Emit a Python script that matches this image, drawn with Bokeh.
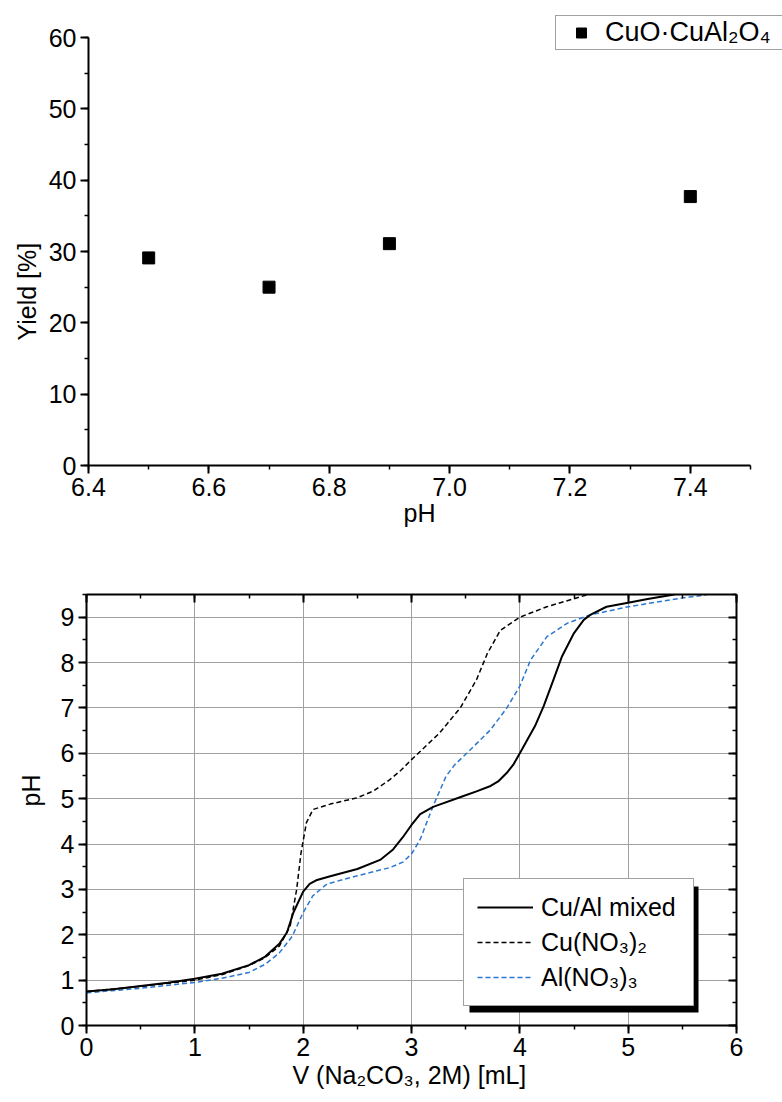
from bokeh.plotting import figure
from bokeh.models import (Legend, LegendItem, LinearAxis, SingleIntervalTicker, Title,
                          PrintfTickFormatter, CustomJSTickFormatter, BoxAnnotation)
from bokeh.embed import file_html
from bokeh.resources import INLINE

FONT = "Liberation Sans"
FS = "25px"

# ---------------- data ----------------
yield_ph = [6.5, 6.7, 6.9, 7.4]
yield_pct = [29.1, 25.0, 31.1, 37.7]
yield_label = "CuO·CuAl₂O₄"

mixed_v = [0, 0.25, 0.5, 0.75, 1.0, 1.25, 1.5, 1.65, 1.78, 1.85, 1.91, 2.0, 2.06, 2.12,
           2.25, 2.5, 2.71, 2.83, 2.92, 3.0, 3.08, 3.2, 3.48, 3.6, 3.73, 3.8, 3.88, 3.94,
           4.0, 4.14, 4.22, 4.31, 4.39, 4.5, 4.59, 4.65, 4.8, 5.0, 5.18, 5.4, 5.6]
mixed_ph = [0.75, 0.80, 0.87, 0.94, 1.03, 1.14, 1.33, 1.52, 1.80, 2.05, 2.49, 2.95, 3.12, 3.2,
            3.29, 3.45, 3.65, 3.88, 4.15, 4.42, 4.66, 4.82, 5.06, 5.16, 5.28, 5.38, 5.57, 5.75,
            6.0, 6.6, 7.04, 7.62, 8.14, 8.65, 8.94, 9.05, 9.23, 9.32, 9.4, 9.49, 9.6]

cu_v = [0, 0.5, 1.0, 1.25, 1.5, 1.65, 1.78, 1.88, 1.94, 1.98, 2.03, 2.09, 2.25, 2.5, 2.65,
        2.8, 2.9, 3.0, 3.26, 3.45, 3.6, 3.7, 3.82, 4.0, 4.25, 4.56, 4.7]
cu_ph = [0.75, 0.86, 1.0, 1.12, 1.32, 1.5, 1.75, 2.19, 3.0, 3.8, 4.47, 4.76, 4.88, 5.02, 5.17,
         5.42, 5.62, 5.86, 6.45, 7.0, 7.62, 8.2, 8.71, 9.0, 9.23, 9.45, 9.55]

al_v = [0, 0.5, 1.0, 1.25, 1.5, 1.65, 1.78, 1.9, 2.0, 2.09, 2.22, 2.5, 2.8, 2.92, 3.0, 3.08,
        3.2, 3.32, 3.4, 3.51, 3.73, 3.88, 4.0, 4.1, 4.25, 4.44, 4.65, 5.0, 5.49, 5.72]
al_ph = [0.72, 0.82, 0.95, 1.04, 1.17, 1.35, 1.6, 1.97, 2.49, 2.86, 3.12, 3.3, 3.48, 3.6, 3.78,
         4.1, 4.84, 5.5, 5.75, 6.0, 6.52, 7.0, 7.48, 8.06, 8.57, 8.87, 9.05, 9.23, 9.42, 9.49]

series_labels = ["Cu/Al mixed", "Cu(NO₃)₂", "Al(NO₃)₃"]
BLUE = "#2a78d0"


def style_axis(ax, inward=False):
    ax.axis_line_width = 2
    ax.axis_line_color = "black"
    ax.major_tick_line_width = 2
    ax.minor_tick_line_width = 1.5
    ax.major_tick_line_color = "black"
    ax.minor_tick_line_color = "black"
    if inward:
        ax.major_tick_in, ax.major_tick_out = 8, 0
        ax.minor_tick_in, ax.minor_tick_out = 4, 0
    else:
        ax.major_tick_in, ax.major_tick_out = 0, 8
        ax.minor_tick_in, ax.minor_tick_out = 0, 4
    ax.major_label_text_font = FONT
    ax.major_label_text_font_size = FS
    ax.major_label_text_color = "black"
    ax.major_label_standoff = 4


def axis_title(text, offset, standoff, valign):
    return Title(text=text, align="left", offset=offset, standoff=standoff,
                 vertical_align=valign, text_font=FONT, text_font_size=FS,
                 text_font_style="normal", text_color="black")


# ---------------- top chart ----------------
# frame spans to the top/right of the canvas so the legend is not clipped;
# axes are bounded to the real data window 6.4..7.5 / 0..60
X0, X1, Y0, Y1 = 6.4, 7.5, 0, 60
px_per_x = 662 / (X1 - X0)
px_per_y = 428 / (Y1 - Y0)
p1 = figure(width=782, height=543,
            x_range=(X0, X1 + 32 / px_per_x), y_range=(Y0, Y1 + 37 / px_per_y),
            output_backend="svg", toolbar_location=None,
            min_border_left=88, min_border_right=0, min_border_top=0, min_border_bottom=78)
p1.title.visible = False
p1.outline_line_color = None
p1.grid.visible = False
p1.xaxis.ticker = SingleIntervalTicker(interval=0.2, num_minor_ticks=2)
p1.xaxis.formatter = PrintfTickFormatter(format="%.1f")
p1.yaxis.ticker = SingleIntervalTicker(interval=10, num_minor_ticks=2)
p1.xaxis.bounds = (X0, X1)
p1.yaxis.bounds = (Y0, Y1)
for ax in p1.xaxis + p1.yaxis:
    style_axis(ax)
p1.add_layout(axis_title("pH", 315, 0, "top"), "below")
p1.add_layout(axis_title("Yield [%]", 125, 10, "bottom"), "left")

r1 = p1.scatter(yield_ph, yield_pct, marker="square", size=12, color="black")
leg1 = Legend(items=[LegendItem(label=yield_label, renderers=[r1])], location=(467, 415),
              padding=1, margin=0, glyph_width=48, glyph_height=25, label_height=25,
              label_width=200, label_standoff=0, label_text_font=FONT,
              label_text_font_size="27px", label_text_color="black",
              border_line_color="#444444", border_line_width=1, background_fill_alpha=1)
p1.add_layout(leg1)

# ---------------- bottom chart ----------------
p2 = figure(width=782, height=557, x_range=(0, 6), y_range=(0, 9.5),
            output_backend="svg", toolbar_location=None,
            min_border_left=86, min_border_right=46, min_border_top=51, min_border_bottom=75)
p2.title.visible = False
p2.outline_line_color = None
p2.xaxis.ticker = SingleIntervalTicker(interval=1, num_minor_ticks=2)
p2.yaxis.ticker = SingleIntervalTicker(interval=1, num_minor_ticks=2)
for ax in p2.xaxis + p2.yaxis:
    style_axis(ax)
p2.xgrid.ticker = p2.xaxis[0].ticker
p2.ygrid.ticker = p2.yaxis[0].ticker
p2.grid.grid_line_color = "#a0a0a0"
p2.grid.grid_line_width = 1

empty = CustomJSTickFormatter(code="return ''")
top_ax = LinearAxis(ticker=SingleIntervalTicker(interval=1, num_minor_ticks=2), formatter=empty)
right_ax = LinearAxis(ticker=SingleIntervalTicker(interval=1, num_minor_ticks=2), formatter=empty)
style_axis(top_ax, inward=True)
style_axis(right_ax, inward=True)
p2.add_layout(top_ax, "above")
p2.add_layout(right_ax, "right")
p2.add_layout(axis_title("V (Na₂CO₃, 2M) [mL]", 206, 4, "top"), "below")
p2.add_layout(axis_title("pH", 219, 26, "bottom"), "left")

ra = p2.line(al_v, al_ph, line_color=BLUE, line_width=1.5, line_dash="5 3")
rc = p2.line(cu_v, cu_ph, line_color="black", line_width=1.5, line_dash="5 3")
rm = p2.line(mixed_v, mixed_ph, line_color="black", line_width=2)

shadow = BoxAnnotation(left=383, right=612, bottom=13, top=139,
                       left_units="screen", right_units="screen",
                       bottom_units="screen", top_units="screen",
                       fill_color="black", fill_alpha=1, line_color=None)
p2.add_layout(shadow)

leg2 = Legend(items=[LegendItem(label=series_labels[0], renderers=[rm]),
                     LegendItem(label=series_labels[1], renderers=[rc]),
                     LegendItem(label=series_labels[2], renderers=[ra])],
              location=(377, 19), padding=13, margin=0, spacing=5,
              glyph_width=56, glyph_height=30, label_height=30, label_width=139,
              label_standoff=8, label_text_font=FONT, label_text_font_size=FS,
              label_text_color="black",
              border_line_color="#444444", border_line_width=1, background_fill_alpha=1)
p2.add_layout(leg2)

open("out.html", "w").write(file_html([p1, p2], INLINE))
